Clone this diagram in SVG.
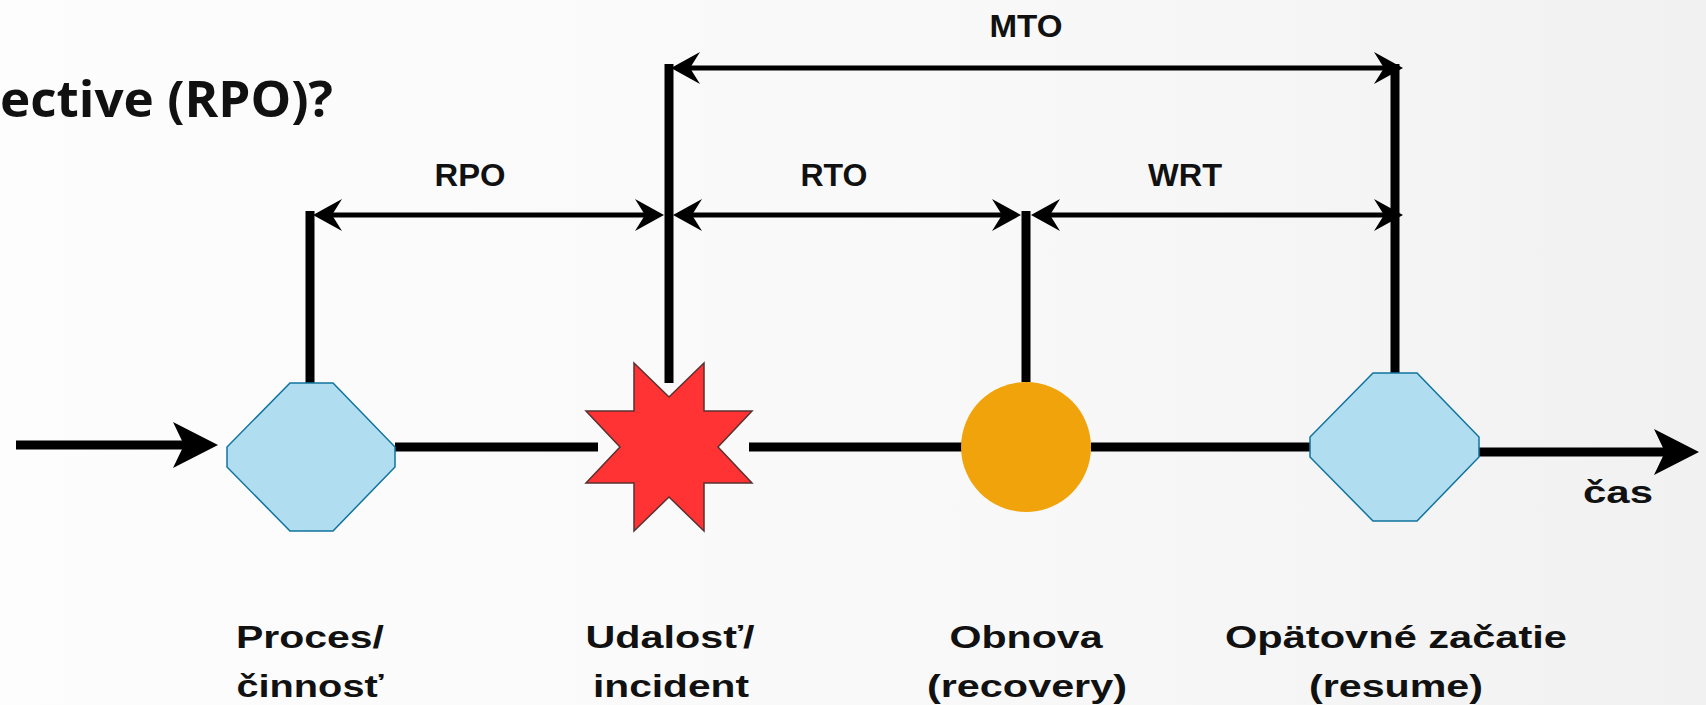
<svg xmlns="http://www.w3.org/2000/svg" width="1706" height="705" viewBox="0 0 1706 705">
<defs>
<linearGradient id="bg" x1="0" y1="0" x2="1" y2="0">
<stop offset="0" stop-color="#fdfdfd"/>
<stop offset="0.6" stop-color="#f8f8f8"/>
<stop offset="1" stop-color="#f1f1f1"/>
</linearGradient>
<marker id="dimHead" viewBox="-30 -18 40 36" markerWidth="40" markerHeight="36" refX="0" refY="0" markerUnits="userSpaceOnUse" orient="auto-start-reverse">
<path d="M5,0 L-24,-16 L-14,0 L-24,16 Z" fill="#000"/>
</marker>
<marker id="bigHead" viewBox="-40 -25 55 50" markerWidth="55" markerHeight="50" refX="0" refY="0" markerUnits="userSpaceOnUse" orient="auto">
<path d="M10,0 L-35,-23 L-24,0 L-35,23 Z" fill="#000"/>
</marker>
</defs>
<style>
.lbl{font-family:"Liberation Sans",Arial,sans-serif;font-weight:bold;font-size:31px;fill:#111;text-anchor:middle}
.title{font-family:"Open Sans","Liberation Sans",sans-serif;font-weight:bold;font-size:50px;fill:#111;text-anchor:start}
.dim{stroke:#000;stroke-width:5;fill:none}
.vert{stroke:#000;stroke-width:9;fill:none}
.time{stroke:#000;stroke-width:9;fill:none}
.hex{fill:#B1DDF0;stroke:#10739E;stroke-width:1.5}
.star{fill:#FF3333;stroke:#5a3030;stroke-width:1.5}
.circ{fill:#F0A30A}
</style>
<rect x="0" y="0" width="1706" height="705" fill="url(#bg)"/>
<text class="title" x="0" y="117" textLength="333" lengthAdjust="spacingAndGlyphs">ective (RPO)?</text>
<g id="connectors">
<line class="time" x1="16" y1="445" x2="208" y2="445" marker-end="url(#bigHead)"/>
<line class="time" x1="395" y1="447" x2="598" y2="447"/>
<line class="time" x1="749" y1="447" x2="962" y2="447"/>
<line class="time" x1="1091" y1="447" x2="1310" y2="447"/>
<line class="time" x1="1479" y1="452" x2="1689" y2="452" marker-end="url(#bigHead)"/>
<line class="vert" x1="310" y1="211" x2="310" y2="383"/>
<line class="vert" x1="669" y1="64" x2="669" y2="383"/>
<line class="vert" x1="1026" y1="211" x2="1026" y2="382"/>
<line class="vert" x1="1395" y1="64" x2="1395" y2="373"/>
<line class="dim" x1="676" y1="68" x2="1398" y2="68" marker-start="url(#dimHead)" marker-end="url(#dimHead)"/>
<line class="dim" x1="318" y1="215" x2="659" y2="215" marker-start="url(#dimHead)" marker-end="url(#dimHead)"/>
<line class="dim" x1="678" y1="215" x2="1016" y2="215" marker-start="url(#dimHead)" marker-end="url(#dimHead)"/>
<line class="dim" x1="1036" y1="215" x2="1398" y2="215" marker-start="url(#dimHead)" marker-end="url(#dimHead)"/>
<text class="lbl" x="1026" y="37" textLength="73" lengthAdjust="spacingAndGlyphs">MTO</text>
<text class="lbl" x="470" y="186" textLength="71" lengthAdjust="spacingAndGlyphs">RPO</text>
<text class="lbl" x="834" y="186" textLength="67" lengthAdjust="spacingAndGlyphs">RTO</text>
<text class="lbl" x="1185" y="186" textLength="74" lengthAdjust="spacingAndGlyphs">WRT</text>
<text class="lbl" x="1618" y="503" textLength="70" lengthAdjust="spacingAndGlyphs">čas</text>
</g>
<g id="proces">
<polygon class="hex" points="290,383 333,383 395,447 395,467 333,531 290,531 227,467 227,447"/>
<text class="lbl" x="310" y="648" textLength="148" lengthAdjust="spacingAndGlyphs">Proces/</text>
<text class="lbl" x="310" y="697" textLength="147" lengthAdjust="spacingAndGlyphs">činnosť</text>
</g>
<g id="udalost">
<polygon class="star" points="634,363 669,397 704,363 704,411 752,411 718,447 752,483 704,483 704,531 669,497 634,531 634,483 586,483 620,447 586,411 634,411"/>
<text class="lbl" x="670" y="648" textLength="169" lengthAdjust="spacingAndGlyphs">Udalosť/</text>
<text class="lbl" x="671" y="697" textLength="156" lengthAdjust="spacingAndGlyphs">incident</text>
</g>
<g id="obnova">
<circle class="circ" cx="1026" cy="447" r="65"/>
<text class="lbl" x="1026" y="648" textLength="153" lengthAdjust="spacingAndGlyphs">Obnova</text>
<text class="lbl" x="1027" y="697" textLength="200" lengthAdjust="spacingAndGlyphs">(recovery)</text>
</g>
<g id="resume">
<polygon class="hex" points="1373,373 1417,373 1479,437 1479,457 1417,521 1373,521 1310,457 1310,437"/>
<text class="lbl" x="1396" y="648" textLength="342" lengthAdjust="spacingAndGlyphs">Opätovné začatie</text>
<text class="lbl" x="1396" y="697" textLength="174" lengthAdjust="spacingAndGlyphs">(resume)</text>
</g>
</svg>
